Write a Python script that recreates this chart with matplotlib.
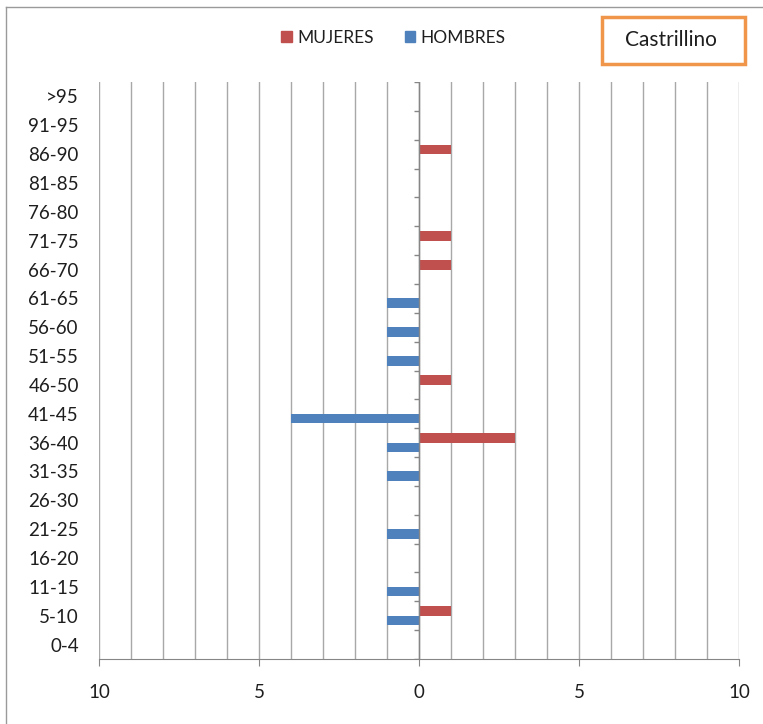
import numpy as np
import matplotlib
matplotlib.use('Agg')
import matplotlib.pyplot as plt
from matplotlib.patches import Patch, Rectangle
from matplotlib.lines import Line2D
from matplotlib.ticker import FuncFormatter, MultipleLocator

plt.rcParams['font.family'] = ['Lato', 'DejaVu Sans']

# age groups, bottom to top
age_groups = ['0-4', '5-10', '11-15', '16-20', '21-25', '26-30', '31-35', '36-40',
              '41-45', '46-50', '51-55', '56-60', '61-65', '66-70', '71-75',
              '76-80', '81-85', '86-90', '91-95', '>95']
mujeres = [0, 1, 0, 0, 0, 0, 0, 3, 0, 1, 0, 0, 0, 1, 1, 0, 0, 1, 0, 0]
hombres = [0, 1, 1, 0, 1, 0, 1, 1, 4, 0, 1, 1, 1, 0, 0, 0, 0, 0, 0, 0]
town = 'Castrillino'

red = '#C0504D'
blue = '#4F81BD'
grid_col = '#a8a8a8'
txt_col = '#1e1e1e'

fig = plt.figure(figsize=(7.63, 7.24), dpi=100)
ax = fig.add_axes([99 / 763, 65 / 724, 640 / 763, 577 / 724])

y = np.arange(len(age_groups))
bh = 0.33
ax.barh(y + bh / 2, mujeres, height=bh, color=red, zorder=3)
ax.barh(y - bh / 2, [-v for v in hombres], height=bh, color=blue, zorder=3)

ax.set_xlim(-10, 10)
ax.set_ylim(-0.5, len(age_groups) - 0.5)

# vertical gridlines every unit
ax.xaxis.set_major_locator(MultipleLocator(5))
ax.xaxis.set_minor_locator(MultipleLocator(1))
ax.grid(axis='x', which='both', color=grid_col, lw=1, zorder=1)
ax.xaxis.set_major_formatter(FuncFormatter(lambda v, p: f'{abs(v):.0f}'))
ax.tick_params(axis='x', which='major', length=5, color='#868686', pad=13,
               labelsize=13.5, labelcolor=txt_col)
ax.tick_params(axis='x', which='minor', length=0)

ax.set_yticks(y)
ax.set_yticklabels(age_groups)
ax.tick_params(axis='y', length=0, pad=14.5, labelsize=13.5, labelcolor=txt_col)

for s in ['top', 'right', 'left']:
    ax.spines[s].set_visible(False)
ax.spines['bottom'].set_color('#868686')

# zero axis with category separators
ax.axvline(0, color='#868686', lw=1, zorder=4)
bounds = np.arange(len(age_groups) + 1) - 0.5
ax.hlines(bounds, -0.17, 0, color='#868686', lw=1, zorder=4)

# legend
handles = [Patch(color=red, label='MUJERES'), Patch(color=blue, label='HOMBRES')]
fig.legend(handles=handles, loc='center', bbox_to_anchor=(393.5 / 763, 1 - 38 / 724),
           ncol=2, frameon=False, fontsize=12.5, handlelength=0.6, handleheight=0.6,
           handletextpad=0.3, columnspacing=1.8, labelcolor=txt_col)

# town name box
fig.patches.append(Rectangle((602 / 763, 1 - 64 / 724), 143 / 763, 47 / 724,
                             transform=fig.transFigure, fill=False,
                             edgecolor='#F0964A', lw=2.5))
fig.text(671 / 763, 1 - 40 / 724, town, ha='center', va='center', fontsize=15,
         color=txt_col)

# outer chart frame (left and top edges visible)
fig.lines.append(Line2D([6 / 763, 6 / 763], [0, 1 - 7 / 724], transform=fig.transFigure,
                        color='#9a9a9a', lw=1))
fig.lines.append(Line2D([6 / 763, 1], [1 - 7 / 724, 1 - 7 / 724], transform=fig.transFigure,
                        color='#9a9a9a', lw=1))

fig.savefig('out.png', dpi=100)
